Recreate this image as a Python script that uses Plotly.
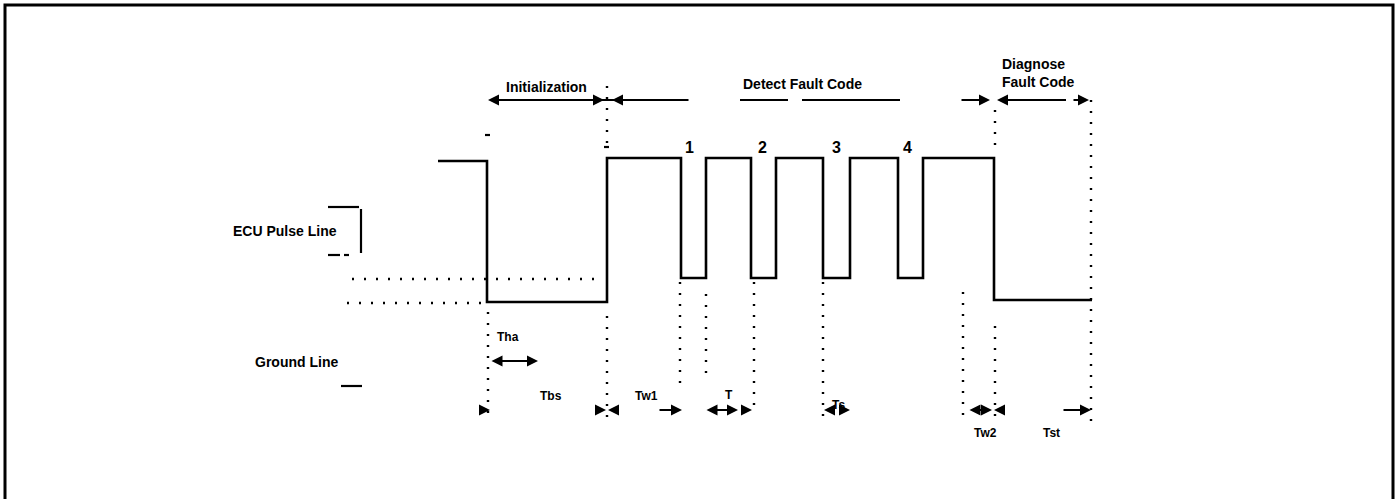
import plotly.graph_objects as go

# ---------------- data (diagram units: time along x, signal level along y) -------------
wave_t = [438, 487, 607, 681, 706, 751, 776, 823, 850, 898, 923, 994, 1092]
wave_level = [161, 302, 158, 278, 158, 278, 158, 278, 158, 278, 158, 300, 300]

pulse_labels = ["1", "2", "3", "4"]
pulse_label_t = [689, 762, 836, 907]

# vertical dotted guide lines (time, from, to)
guide_t = [488, 607, 607, 680, 706, 754, 823, 963, 995, 995, 1091]
guide_from = [312, 86, 316, 282, 294, 282, 282, 292, 110, 326, 100]
guide_to = [422, 150, 422, 388, 380, 408, 422, 422, 150, 422, 422]

# horizontal dotted reference lines (level, from, to)
ref_level = [279, 303]
ref_from = [352, 347]
ref_to = [598, 482]

# phase labels (top)
phase_labels = ["Initialization", "Detect Fault Code", "Diagnose<br>Fault Code"]
phase_label_t = [546, 802, 1000]
phase_label_y = [87, 84, 73]
phase_anchor = ["center", "center", "left"]

# timing labels (bottom)
timing_labels = ["Tha", "Tbs", "Tw1", "T", "Ts", "Tw2", "Tst"]
timing_label_t = [508, 551, 646, 729, 838, 985, 1051]
timing_label_y = [337, 396, 396, 395, 405, 433, 433]

# arrows: (tail, head, level, double-sided)
arrow_tail = [540, 630, 690, 960, 1015, 1072, 490, 658, 740, 705, 834, 842, 968, 1062, 598, 616, 478, 1004]
arrow_head = [604, 612, 488, 990, 997, 1089, 538, 682, 752, 738, 824, 850, 992, 1091, 606, 608, 490, 994]
arrow_level = [100, 100, 100, 100, 100, 100, 361, 410, 410, 410, 410, 410, 410, 410, 410, 410, 410, 410]
arrow_both = [False, False, False, False, False, False, True, False, False, True, False, False, True, False,
              False, False, False, False]

# dashed top line segments
dash_from = [612, 740, 802, 1000]
dash_to = [688, 788, 900, 1066]

side_labels = ["ECU Pulse Line", "Ground Line"]
side_label_x = [285, 296]
side_label_y = [231, 362]

# ---------------- figure ----------------
fig = go.Figure()

fig.add_trace(go.Scatter(x=wave_t, y=wave_level, mode="lines", line_shape="hv",
                         line=dict(color="black", width=2.6), hoverinfo="skip",
                         showlegend=False))

shapes = []
# border
shapes.append(dict(type="rect", xref="x", yref="y", x0=5, x1=1393, y0=5, y1=520,
                   line=dict(color="black", width=3)))
for t, a, b in zip(guide_t, guide_from, guide_to):
    shapes.append(dict(type="line", x0=t, x1=t, y0=a, y1=b,
                       line=dict(color="black", width=2.4, dash="2px,9px")))
for lv, a, b in zip(ref_level, ref_from, ref_to):
    shapes.append(dict(type="line", x0=a, x1=b, y0=lv, y1=lv,
                       line=dict(color="black", width=2.4, dash="2px,10px")))
for a, b in zip(dash_from, dash_to):
    shapes.append(dict(type="line", x0=a, x1=b, y0=100, y1=100,
                       line=dict(color="black", width=2.2)))
# bracket near ECU Pulse Line and small marks
shapes += [
    dict(type="line", x0=328, x1=359, y0=207, y1=207, line=dict(color="black", width=2.2)),
    dict(type="line", x0=361, x1=361, y0=209, y1=253, line=dict(color="black", width=2.2)),
    dict(type="line", x0=328, x1=340, y0=255, y1=255, line=dict(color="black", width=2.2)),
    dict(type="line", x0=344, x1=349, y0=255, y1=255, line=dict(color="black", width=2.2)),
    dict(type="line", x0=341, x1=362, y0=386, y1=386, line=dict(color="black", width=2.2)),
    dict(type="line", x0=485, x1=490, y0=135, y1=135, line=dict(color="black", width=2.2)),
    dict(type="line", x0=604, x1=609, y0=147, y1=147, line=dict(color="black", width=2.2)),
]

annotations = []
for tail, head, lv, both in zip(arrow_tail, arrow_head, arrow_level, arrow_both):
    annotations.append(dict(x=head, y=lv, ax=tail, ay=lv, xref="x", yref="y",
                            axref="x", ayref="y", text="", showarrow=True,
                            arrowhead=2, arrowsize=1, arrowwidth=2.2, arrowcolor="black",
                            arrowside="end+start" if both else "end",
                            startarrowhead=2, startarrowsize=1))

font = dict(family="Liberation Sans, Arial", size=14, color="black")
for txt, t in zip(pulse_labels, pulse_label_t):
    annotations.append(dict(x=t, y=147, text="<b>%s</b>" % txt, showarrow=False,
                            font=dict(family="Liberation Sans, Arial", size=16, color="black")))
for txt, t, y, anc in zip(phase_labels, phase_label_t, phase_label_y, phase_anchor):
    annotations.append(dict(x=t, y=y, text="<b>%s</b>" % txt, showarrow=False, font=font,
                            align="left", xanchor=anc))
for txt, t, y in zip(timing_labels, timing_label_t, timing_label_y):
    annotations.append(dict(x=t, y=y, text="<b>%s</b>" % txt, showarrow=False,
                            font=dict(family="Liberation Sans, Arial", size=12, color="black")))
for txt, x, y in zip(side_labels, side_label_x, side_label_y):
    annotations.append(dict(x=x, y=y, text="<b>%s</b>" % txt, showarrow=False, font=font))

fig.update_layout(
    width=1395, height=499,
    margin=dict(l=0, r=0, t=0, b=0),
    paper_bgcolor="white", plot_bgcolor="white",
    xaxis=dict(range=[0, 1395], visible=False, fixedrange=True),
    yaxis=dict(range=[499, 0], visible=False, fixedrange=True),
    shapes=shapes, annotations=annotations, showlegend=False,
)

fig.write_html("out.html", config={"displayModeBar": False},
               post_script="document.body.style.margin='0';document.body.style.overflow='hidden';")
